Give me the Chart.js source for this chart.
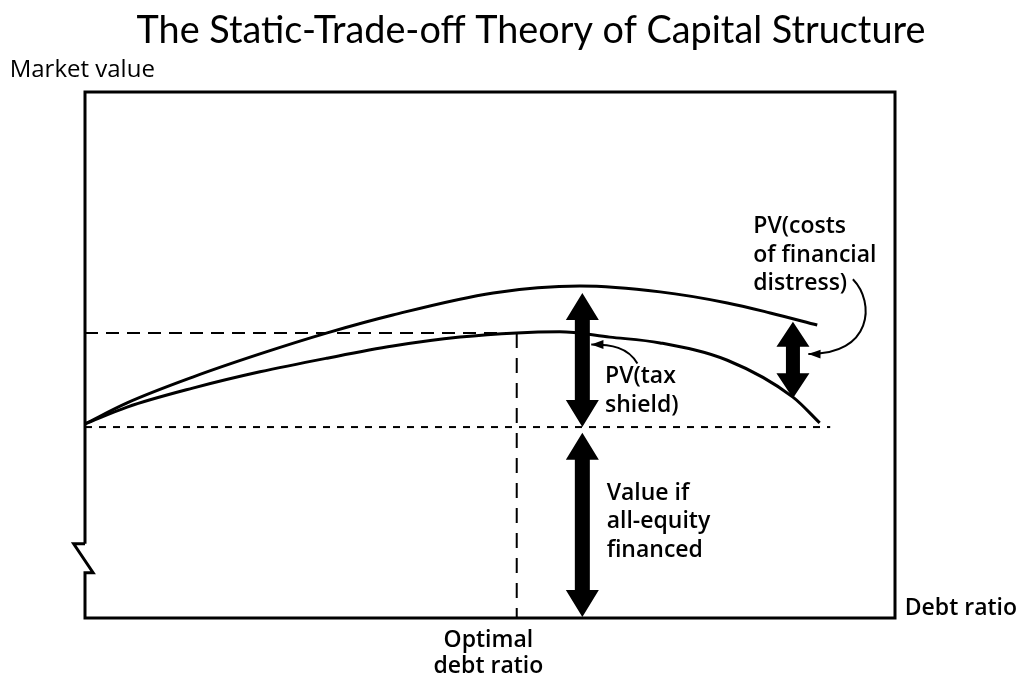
<!DOCTYPE html>
<html>
<head>
<meta charset="utf-8">
<script src="https://cdn.jsdelivr.net/npm/chart.js@4.4.1/dist/chart.umd.min.js"></script>
<style>
  body { margin: 0; background: #fff; }
  canvas { display: block; }
</style>
</head>
<body>
<canvas id="tradeoff" width="1018" height="677"></canvas>
<script>
const chartTitle = 'The Static-Trade-off Theory of Capital Structure';

// upper curve: value with tax shield only (no distress costs)
const upperX = [0, 5.2, 13.3, 21.6, 29.9, 38.0, 50.4, 61.1, 71.0, 79.3, 84.6, 90.4];
const upperY = [36.9, 40.9, 45.8, 50.2, 54.2, 57.6, 61.8, 63.1, 62.0, 59.9, 58.0, 55.7];

// lower curve: market value of the firm
const lowerX = [0, 5.2, 13.3, 21.6, 29.9, 38.0, 46.3, 53.3, 58.6, 64.8, 71.0, 79.3, 87.4, 90.7];
const lowerY = [36.9, 40.1, 43.7, 46.8, 49.4, 51.7, 53.4, 54.2, 54.4, 53.4, 52.3, 49.0, 42.0, 37.1];

// guide lines
const optimalDebt = 53.3;
const optimalValue = 54.2;
const allEquityValue = 36.3;
const guideEnd = 92;

// frame of the plot with the axis break
const frameX = [0, 0, 100, 100, 0, 0, 1.0, -1.4, 0];
const frameY = [14.1, 100, 100, 0, 0, 8.6, 8.6, 14.1, 14.1];

// double arrows: [x, top, bottom]
const taxShieldArrow = [61.4, 61.8, 36.3];
const allEquityArrow = [61.4, 35.2, 0.2];
const distressArrow = [87.4, 56.3, 41.8];

function toPoints(xs, ys) {
  return xs.map((x, i) => ({ x: x, y: ys[i] }));
}

function doubleArrow(ctx, x, y1, y2, shaft, headW, headL) {
  ctx.beginPath();
  ctx.moveTo(x, y1);
  ctx.lineTo(x + headW / 2, y1 + headL);
  ctx.lineTo(x + shaft / 2, y1 + headL);
  ctx.lineTo(x + shaft / 2, y2 - headL);
  ctx.lineTo(x + headW / 2, y2 - headL);
  ctx.lineTo(x, y2);
  ctx.lineTo(x - headW / 2, y2 - headL);
  ctx.lineTo(x - shaft / 2, y2 - headL);
  ctx.lineTo(x - shaft / 2, y1 + headL);
  ctx.lineTo(x - headW / 2, y1 + headL);
  ctx.closePath();
  ctx.fill();
}

function leader(ctx, p0, c1, c2, p3) {
  ctx.beginPath();
  ctx.moveTo(p0[0], p0[1]);
  ctx.bezierCurveTo(c1[0], c1[1], c2[0], c2[1], p3[0], p3[1]);
  ctx.lineWidth = 2;
  ctx.stroke();
  // small head at the tip
  let ang = Math.atan2(p3[1] - c2[1], p3[0] - c2[0]);
  ctx.beginPath();
  ctx.moveTo(p3[0], p3[1]);
  ctx.lineTo(p3[0] - 13 * Math.cos(ang - 0.35), p3[1] - 13 * Math.sin(ang - 0.35));
  ctx.lineTo(p3[0] - 13 * Math.cos(ang + 0.35), p3[1] - 13 * Math.sin(ang + 0.35));
  ctx.closePath();
  ctx.fill();
}

const annotations = {
  id: 'annotations',
  afterDatasetsDraw(chart) {
    const ctx = chart.ctx;
    const sx = chart.scales.x;
    const sy = chart.scales.y;
    const px = (v) => sx.getPixelForValue(v);
    const py = (v) => sy.getPixelForValue(v);

    ctx.save();
    ctx.fillStyle = '#000';
    ctx.strokeStyle = '#000';

    // title (drawn here so it can sit off the plot centre like the original)
    ctx.font = '37.8px Lato';
    ctx.textAlign = 'center';
    ctx.textBaseline = 'alphabetic';
    ctx.fillText(chartTitle, 531, 43);

    doubleArrow(ctx, px(taxShieldArrow[0]), py(taxShieldArrow[1]), py(taxShieldArrow[2]), 15, 33, 27);
    doubleArrow(ctx, px(allEquityArrow[0]), py(allEquityArrow[1]), py(allEquityArrow[2]), 15, 33, 27);
    doubleArrow(ctx, px(distressArrow[0]), py(distressArrow[1]), py(distressArrow[2]), 14, 33, 25);

    leader(ctx, [px(94.8), py(64.4)], [px(97.6), py(60.0)], [px(97.2), py(50.0)], [px(89.3), py(50.2)]);
    leader(ctx, [px(68.2), py(48.4)], [px(67.0), py(51.5)], [px(65.0), py(52.0)], [px(62.5), py(52.0)]);

    ctx.font = '600 23px "Open Sans"';
    ctx.textAlign = 'left';
    ctx.fillText('PV(costs', px(82.5), py(73.2));
    ctx.fillText('of financial', px(82.5), py(67.7));
    ctx.fillText('distress)', px(82.5), py(62.4));
    ctx.fillText('PV(tax', px(64.2), py(44.7));
    ctx.fillText('shield)', px(64.2), py(39.2));
    ctx.fillText('Value if', px(64.4), py(22.4));
    ctx.fillText('all-equity', px(64.4), py(17.1));
    ctx.fillText('financed', px(64.4), py(11.6));
    ctx.fillText('Debt ratio', px(101.2), py(0.6));

    ctx.textAlign = 'center';
    ctx.fillText('Optimal', px(49.8), py(-5.5));
    ctx.fillText('debt ratio', px(49.8), py(-10.5));

    ctx.font = '24px "Open Sans"';
    ctx.textAlign = 'left';
    ctx.fillText('Market value', px(-9.3), py(102.9));
    ctx.restore();
  }
};

new Chart(document.getElementById('tradeoff').getContext('2d'), {
  type: 'scatter',
  data: {
    datasets: [
      {
        data: toPoints(frameX, frameY),
        showLine: true,
        borderColor: '#000',
        borderWidth: 3,
        borderJoinStyle: 'miter',
        pointRadius: 0,
        clip: false,
      },
      {
        data: toPoints(upperX, upperY),
        showLine: true,
        borderColor: '#000',
        borderWidth: 3,
        cubicInterpolationMode: 'monotone',
        pointRadius: 0,
      },
      {
        data: toPoints(lowerX, lowerY),
        showLine: true,
        borderColor: '#000',
        borderWidth: 3,
        cubicInterpolationMode: 'monotone',
        pointRadius: 0,
      },
      {
        data: [{ x: 0, y: optimalValue }, { x: optimalDebt, y: optimalValue }],
        showLine: true,
        borderColor: '#000',
        borderWidth: 2,
        borderDash: [13, 8],
        pointRadius: 0,
      },
      {
        data: [{ x: optimalDebt, y: optimalValue }, { x: optimalDebt, y: 0 }],
        showLine: true,
        borderColor: '#000',
        borderWidth: 2,
        borderDash: [15, 10],
        pointRadius: 0,
      },
      {
        data: [{ x: 0, y: allEquityValue }, { x: guideEnd, y: allEquityValue }],
        showLine: true,
        borderColor: '#000',
        borderWidth: 2,
        borderDash: [7, 7],
        pointRadius: 0,
      },
    ],
  },
  options: {
    animation: false,
    responsive: false,
    layout: {
      padding: { left: 85, right: 123, top: 92, bottom: 59 },
    },
    plugins: {
      legend: { display: false },
      tooltip: { enabled: false },
      title: { display: false },
    },
    scales: {
      x: { type: 'linear', min: 0, max: 100, display: false },
      y: { type: 'linear', min: 0, max: 100, display: false },
    },
  },
  plugins: [annotations],
});
</script>
</body>
</html>
